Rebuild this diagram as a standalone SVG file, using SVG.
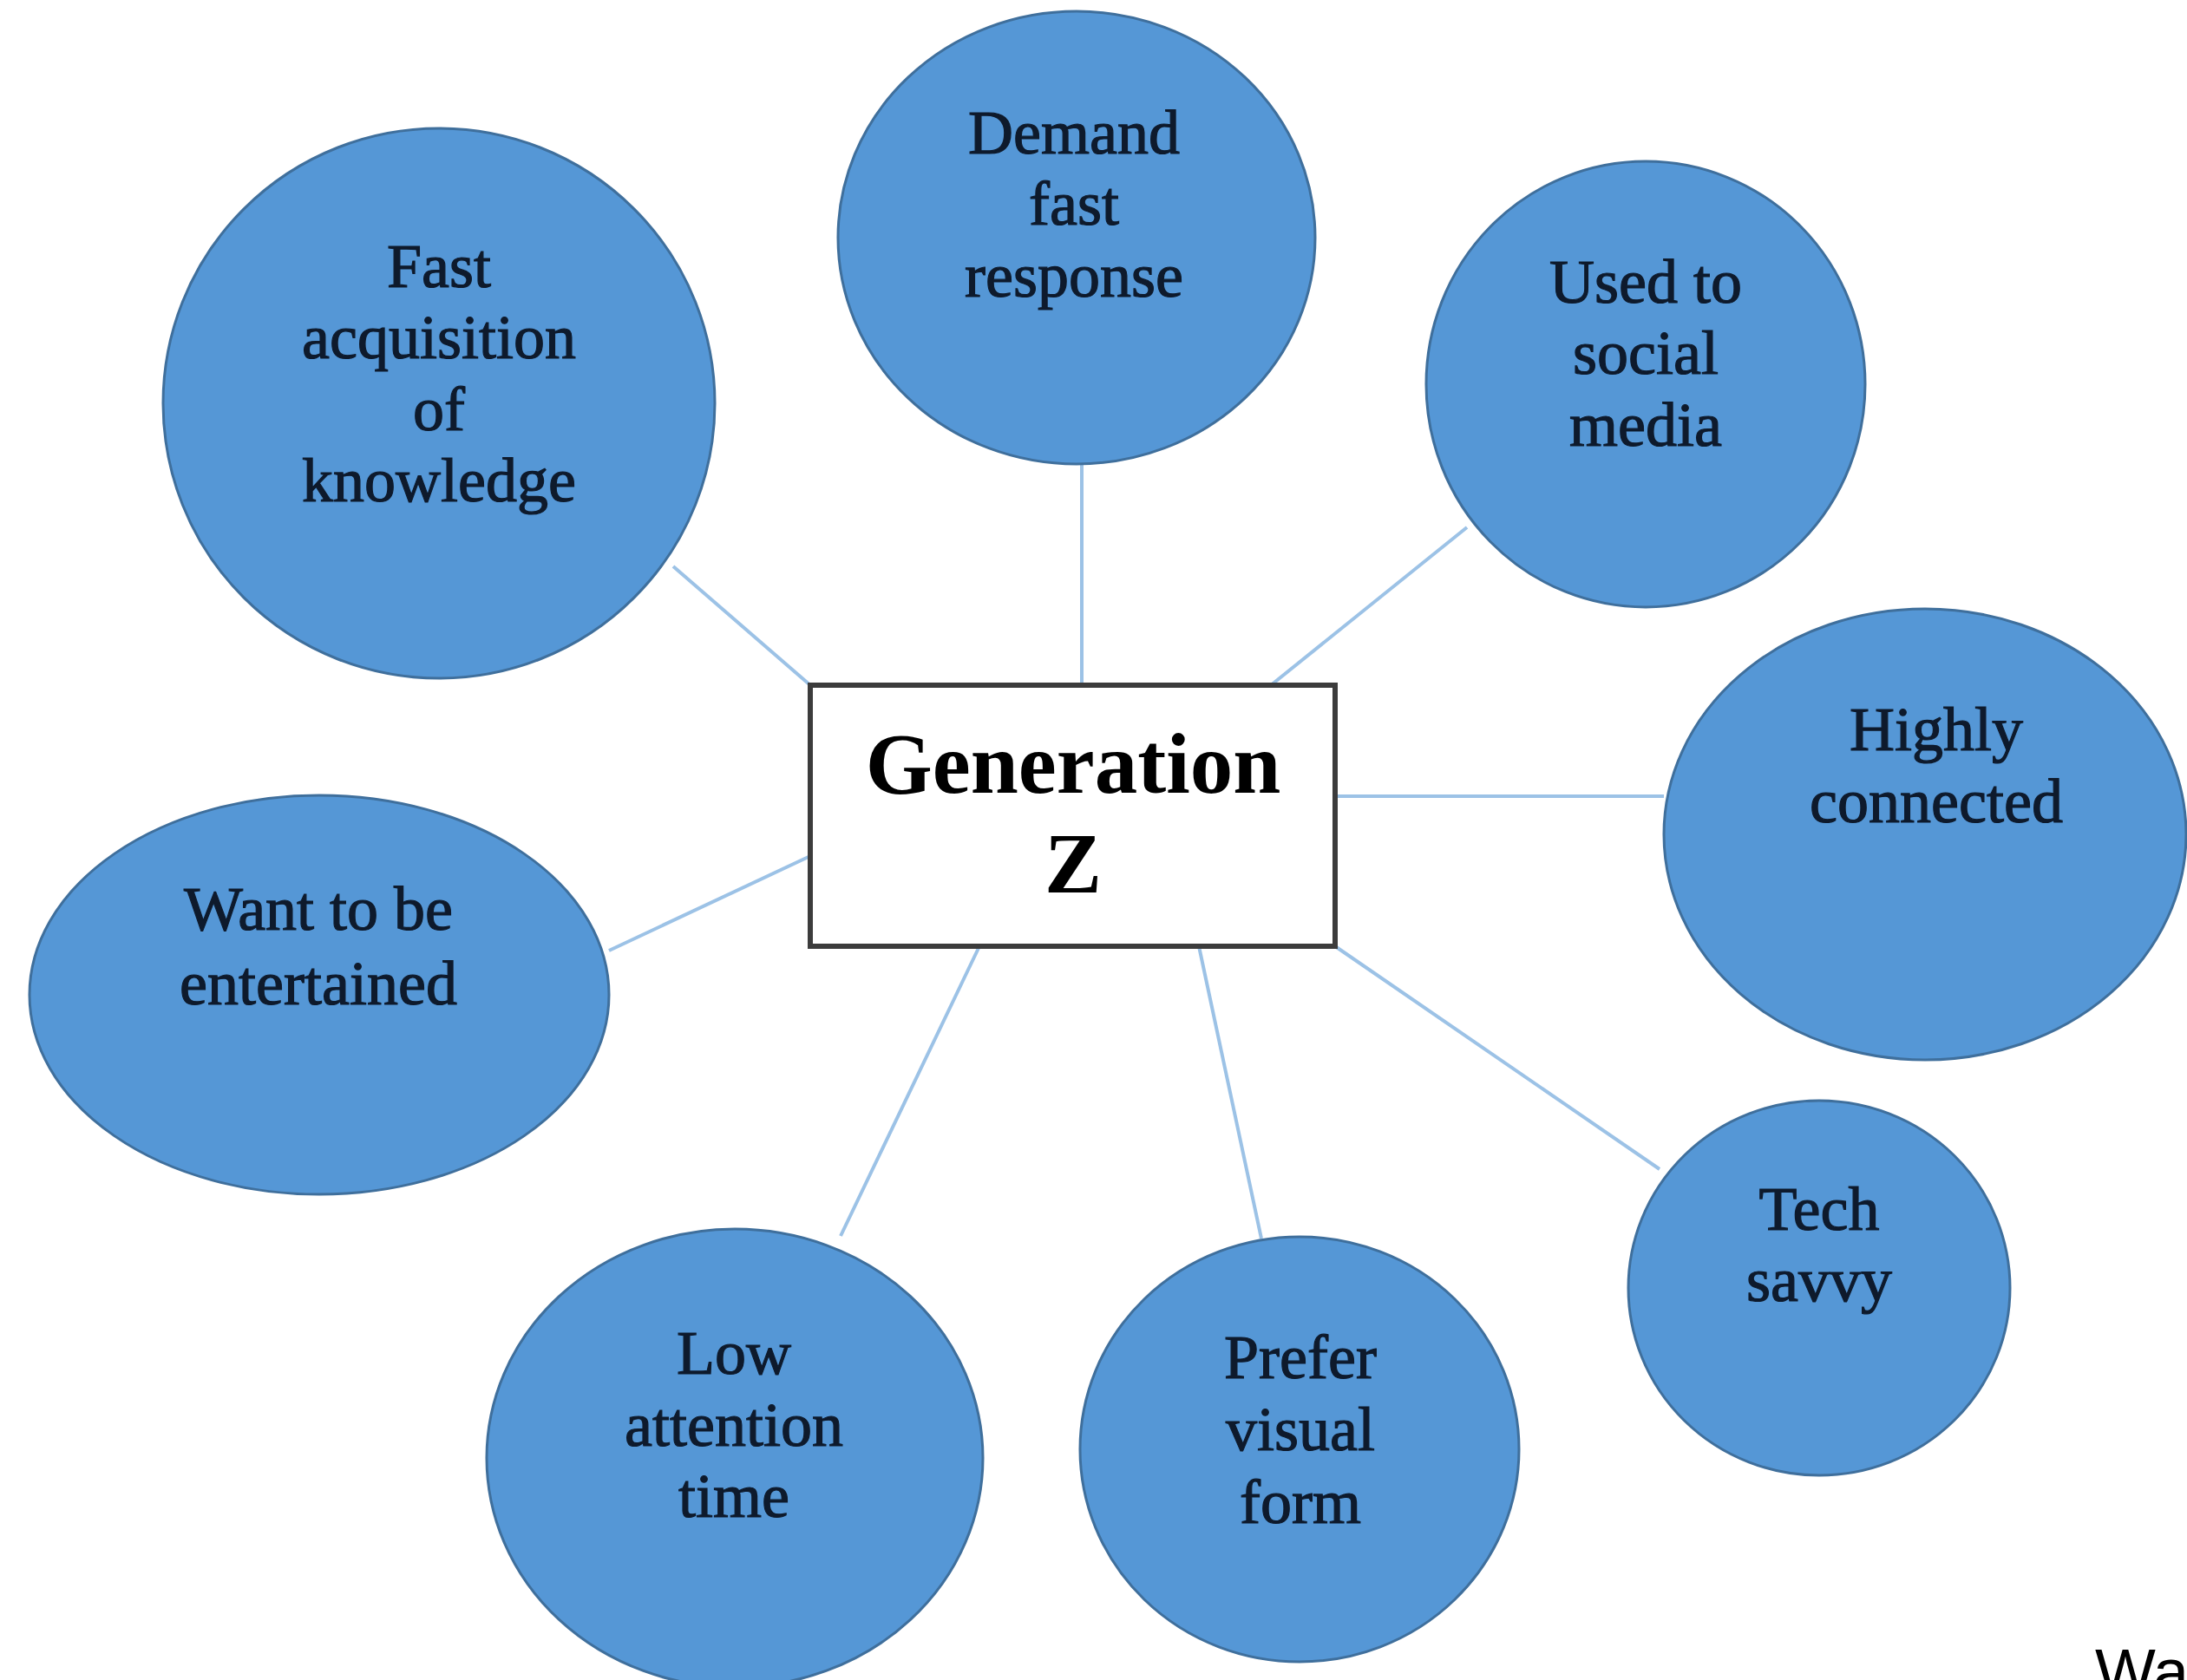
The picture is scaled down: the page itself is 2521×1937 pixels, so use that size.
<svg xmlns="http://www.w3.org/2000/svg" width="2521" height="1937" viewBox="0 0 2521 1937">
  <style>
    .bubble { fill: #5597d6; stroke: #3f6f9c; stroke-width: 3; }
    .label { font-family: "Liberation Serif", "Times New Roman", serif; font-size: 72px; fill: #0e1a2c; stroke: #0e1a2c; stroke-width: 1.2; text-anchor: middle; }
    .link { stroke: #9cc2e6; stroke-width: 4; fill: none; }
    .hub { fill: #ffffff; stroke: #3c3c3c; stroke-width: 6; }
    .hub-label { font-family: "Liberation Serif", "Times New Roman", serif; font-size: 99px; font-weight: bold; fill: #000000; text-anchor: middle; }
  </style>
  <rect width="2521" height="1937" fill="#ffffff"/>

  <!-- connectors from the central box to each trait -->
  <g id="connectors">
    <line class="link" x1="776" y1="653" x2="934" y2="790"/>
    <line class="link" x1="1247" y1="535" x2="1247" y2="790"/>
    <line class="link" x1="1691" y1="608" x2="1465" y2="790"/>
    <line class="link" x1="1539" y1="918" x2="1918" y2="918"/>
    <line class="link" x1="1539" y1="1091" x2="1913" y2="1348"/>
    <line class="link" x1="1382" y1="1091" x2="1454" y2="1428"/>
    <line class="link" x1="1129" y1="1091" x2="969" y2="1425"/>
    <line class="link" x1="934" y1="987" x2="702" y2="1096"/>
  </g>

  <g id="node-knowledge">
    <ellipse class="bubble" cx="506" cy="465" rx="318" ry="317"/>
    <text class="label" x="506" y="331">Fast</text>
    <text class="label" x="506" y="413">acquisition</text>
    <text class="label" x="506" y="496">of</text>
    <text class="label" x="506" y="578">knowledge</text>
  </g>

  <g id="node-response">
    <ellipse class="bubble" cx="1241" cy="274" rx="275" ry="261"/>
    <text class="label" x="1238" y="177">Demand</text>
    <text class="label" x="1238" y="259">fast</text>
    <text class="label" x="1238" y="342">response</text>
  </g>

  <g id="node-social">
    <ellipse class="bubble" cx="1897" cy="443" rx="253" ry="257"/>
    <text class="label" x="1897" y="349">Used to</text>
    <text class="label" x="1897" y="431">social</text>
    <text class="label" x="1897" y="514">media</text>
  </g>

  <g id="node-connected">
    <ellipse class="bubble" cx="2219" cy="962" rx="301" ry="260"/>
    <text class="label" x="2232" y="865">Highly</text>
    <text class="label" x="2232" y="948">connected</text>
  </g>

  <g id="node-tech">
    <ellipse class="bubble" cx="2097" cy="1485" rx="220" ry="216"/>
    <text class="label" x="2097" y="1418">Tech</text>
    <text class="label" x="2097" y="1500">savvy</text>
  </g>

  <g id="node-visual">
    <ellipse class="bubble" cx="1498" cy="1671" rx="253" ry="245"/>
    <text class="label" x="1499" y="1589">Prefer</text>
    <text class="label" x="1499" y="1672">visual</text>
    <text class="label" x="1499" y="1756">form</text>
  </g>

  <g id="node-attention">
    <ellipse class="bubble" cx="847" cy="1681" rx="286" ry="264"/>
    <text class="label" x="846" y="1584">Low</text>
    <text class="label" x="846" y="1667">attention</text>
    <text class="label" x="846" y="1749">time</text>
  </g>

  <g id="node-entertained">
    <ellipse class="bubble" cx="368" cy="1147" rx="334" ry="230"/>
    <text class="label" x="367" y="1072">Want to be</text>
    <text class="label" x="367" y="1158">entertained</text>
  </g>

  <g id="node-genz">
    <rect class="hub" x="934" y="790" width="605" height="301"/>
    <text class="hub-label" x="1237" y="914">Generation</text>
    <text class="hub-label" x="1237" y="1029">Z</text>
  </g>

  <!-- source caption, running off the lower right edge -->
  <text x="2415" y="1953" font-family="'Liberation Sans', Arial, sans-serif" font-size="74" fill="#000000">Wa</text>
</svg>
